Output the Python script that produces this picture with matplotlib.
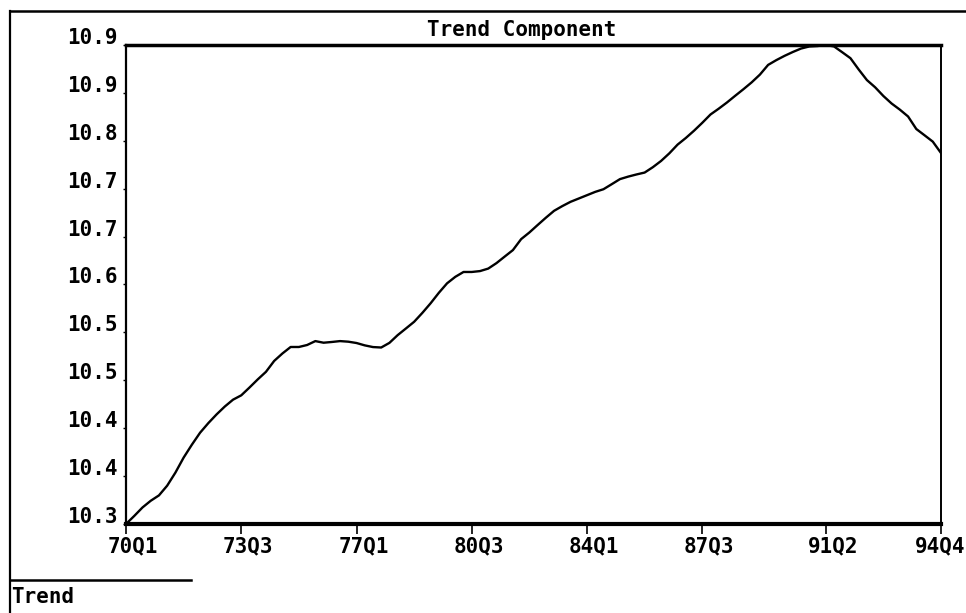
import matplotlib
matplotlib.use("Agg")
import matplotlib.pyplot as plt
import matplotlib.transforms as mtransforms
from matplotlib.lines import Line2D
import numpy as np

# ---- data ----
quarters = [f"{y % 100:02d}Q{q}" for y in range(1970, 1995) for q in range(1, 5)]
trend = [
    10.2870, 10.2979, 10.3094, 10.3185, 10.3258, 10.3390, 10.3567, 10.3771, 10.3946, 10.4109,
    10.4239, 10.4357, 10.4464, 10.4557, 10.4616, 10.4722, 10.4832, 10.4935, 10.5083, 10.5184,
    10.5272, 10.5272, 10.5299, 10.5352, 10.5330, 10.5340, 10.5352, 10.5344, 10.5326, 10.5294,
    10.5271, 10.5265, 10.5328, 10.5433, 10.5523, 10.5614, 10.5735, 10.5865, 10.6007, 10.6136,
    10.6224, 10.6290, 10.6290, 10.6302, 10.6336, 10.6410, 10.6499, 10.6587, 10.6736, 10.6826,
    10.6927, 10.7026, 10.7120, 10.7184, 10.7242, 10.7287, 10.7332, 10.7377, 10.7413, 10.7481,
    10.7550, 10.7584, 10.7613, 10.7639, 10.7712, 10.7797, 10.7900, 10.8018, 10.8108, 10.8207,
    10.8314, 10.8427, 10.8506, 10.8590, 10.8681, 10.8770, 10.8863, 10.8968, 10.9100, 10.9165,
    10.9223, 10.9275, 10.9322, 10.9350, 10.9356, 10.9370, 10.9351, 10.9272, 10.9191, 10.9038,
    10.8894, 10.8796, 10.8678, 10.8576, 10.8493, 10.8400, 10.8230, 10.8145, 10.8059, 10.7904,
]
xtick_labels = ["70Q1", "73Q3", "77Q1", "80Q3", "84Q1", "87Q3", "91Q2", "94Q4"]
n_yticks = 11
title = "Trend Component"
legend_label = "Trend"

# ---- style ----
plt.rcParams["font.family"] = ["DejaVu Sans Mono", "DejaVu Sans"]
plt.rcParams["font.weight"] = "bold"
FS = 15

W, H = 966, 613
fig = plt.figure(figsize=(W / 100, H / 100), dpi=100)
fig.patch.set_facecolor("white")

left, right, top, bottom = 126, 941, 45, 524
ax = fig.add_axes([left / W, 1 - bottom / H, (right - left) / W, (bottom - top) / H])

x = np.arange(len(trend))
ax.plot(x, trend, color="black", linewidth=1.7)

ymin, ymax = min(trend), max(trend)
ax.set_xlim(0, len(trend) - 1)
ax.set_ylim(ymin, ymax)

yt = np.linspace(ymin, ymax, n_yticks)
ax.set_yticks(yt)
ax.set_yticklabels([f"{v:.1f}" for v in yt], fontsize=FS, fontweight="bold")

xt = [quarters.index(t) for t in xtick_labels]
ax.set_xticks(xt)
ax.set_xticklabels(xtick_labels, fontsize=FS, fontweight="bold")

ax.tick_params(axis="x", direction="out", length=7, width=1.2, pad=2, colors="black")
ax.tick_params(axis="y", direction="out", length=2, width=1, pad=4, colors="black")

for s, lw in (("top", 2.5), ("bottom", 3.0), ("left", 1.6), ("right", 1.4)):
    ax.spines[s].set_linewidth(lw)
    ax.spines[s].set_color("black")

# offsets of tick labels to mimic original placement
yoff = mtransforms.ScaledTranslation(0, 9 / 100, fig.dpi_scale_trans)
for lab in ax.get_yticklabels():
    lab.set_transform(lab.get_transform() + yoff)
xlabs = ax.get_xticklabels()
for i, lab in enumerate(xlabs):
    dx = 7 if i < len(xlabs) - 1 else -1
    lab.set_transform(lab.get_transform() + mtransforms.ScaledTranslation(dx / 100, 0, fig.dpi_scale_trans))

# title
fig.text(522 / W, 1 - 30 / H, title, ha="center", va="center", fontsize=FS, fontweight="bold")

# outer frame lines
fig.add_artist(Line2D([11 / W, 1.0], [1 - 11 / H, 1 - 11 / H], transform=fig.transFigure,
                      color="black", linewidth=1.8))
fig.add_artist(Line2D([10 / W, 10 / W], [1 - 11 / H, 0.0], transform=fig.transFigure,
                      color="black", linewidth=1.6))

# legend area
fig.add_artist(Line2D([10 / W, 191 / W], [1 - 580 / H, 1 - 580 / H], transform=fig.transFigure,
                      color="black", linewidth=1.8))
fig.text(11 / W, 1 - 597 / H, legend_label, ha="left", va="center", fontsize=FS, fontweight="bold")

fig.savefig("out.png", dpi=100)
